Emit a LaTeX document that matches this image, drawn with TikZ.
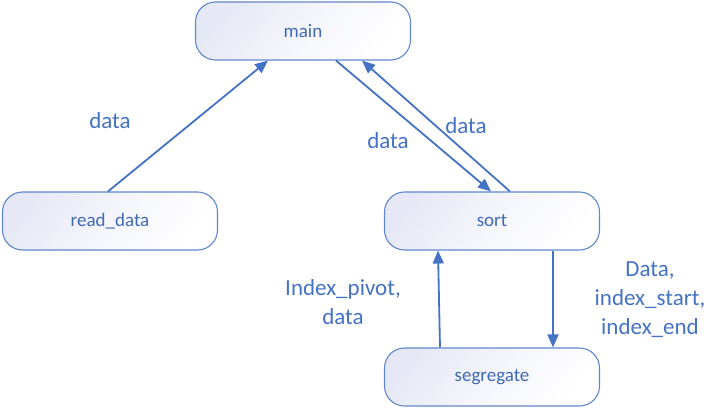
\documentclass[tikz,border=0pt]{standalone}
\usepackage{fontspec}
\setmainfont{Carlito}
\usetikzlibrary{arrows.meta,calc}
\definecolor{oblue}{HTML}{4472C4}
\definecolor{nblue}{HTML}{3F68B5}
\definecolor{shadec}{HTML}{E6E8F5}
\begin{document}
\begin{tikzpicture}[x=1pt,y=-1pt,
  box/.style={draw=oblue!85, line width=1.1pt, rounded corners=20pt,
    minimum width=215pt, minimum height=58pt, inner sep=0pt,
    top color=shadec, bottom color=white, middle color=white!60!shadec, shading angle=50,
    text=nblue, font=\fontsize{19}{22}\selectfont},
  conn/.style={draw=oblue, line width=1.8pt, -{Triangle[length=13pt,width=11pt]}},
  lbl/.style={text=oblue, font=\fontsize{23}{29}\selectfont, align=center, inner sep=0pt}]
\useasboundingbox (0,0) rectangle (727,409);
\node[box] (main) at (303,31) {main};
\node[box] (rd) at (110,221) {read\_data};
\node[box] (sort) at (492,221) {sort};
\node[box] (seg) at (492,377) {segregate};

\draw[conn] ($(rd.north)+(-2,0)$) -- ($(main.south)+(-35,0)$);
\draw[conn] ($(main.south)+(33,0)$) -- ($(sort.north)+(-1,0)$);
\draw[conn] ($(sort.north)+(18,0)$) -- ($(main.south)+(59,0)$);
\draw[conn] ($(sort.south)+(61,0)$) -- ($(seg.north)+(61,0)$);
\draw[conn] ($(seg.north)+(-52,0)$) -- ($(sort.south)+(-54,0)$);

\node[lbl] (l1) at (110,121) {data};
\node[lbl] (l2) at (388,141) {data};
\node[lbl] (l3) at (466,126) {data};
\node[lbl] (l4) at (343,302) {Index\_pivot,\\data};
\node[lbl] (l5) at (650,300) {Data,\\index\_start,\\index\_end};
\end{tikzpicture}
\end{document}
